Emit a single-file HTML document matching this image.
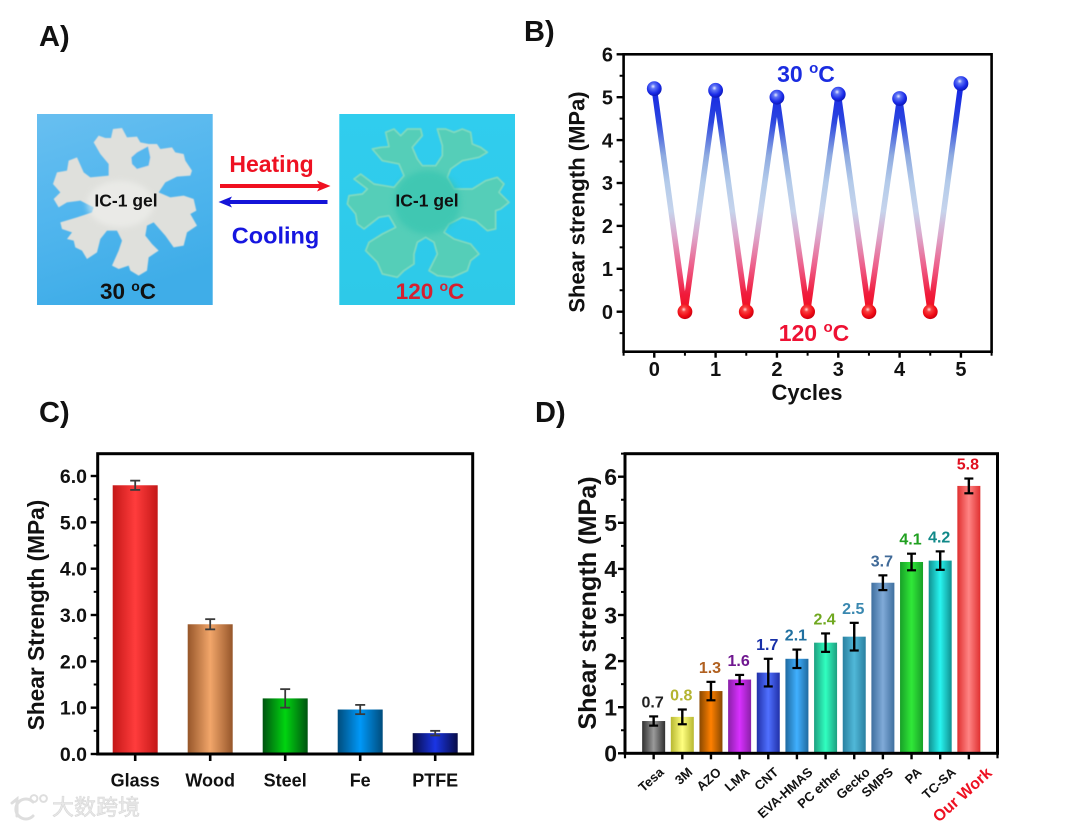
<!DOCTYPE html>
<html lang="en">
<head>
<meta charset="utf-8">
<title>IC-1 gel adhesion figure</title>
<style>
html,body{margin:0;padding:0;background:#fff;width:1076px;height:826px;overflow:hidden}
svg{display:block}
text{font-family:"Liberation Sans","Noto Sans CJK SC",sans-serif;font-weight:bold;fill:#111}
</style>
</head>
<body>
<svg id="fig" xmlns="http://www.w3.org/2000/svg" width="1076" height="826" viewBox="0 0 1076 826">
<defs>
  <linearGradient id="bgL" x1="0" y1="0" x2="0.3" y2="1"><stop offset="0" stop-color="#68bff0"/><stop offset="0.5" stop-color="#52b6ee"/><stop offset="1" stop-color="#3fade8"/></linearGradient>
  <linearGradient id="bgR" x1="0" y1="0" x2="0" y2="1"><stop offset="0" stop-color="#30cdee"/><stop offset="1" stop-color="#2ec9e8"/></linearGradient>
  <radialGradient id="ballBlue" cx="0.42" cy="0.35" r="0.65"><stop offset="0" stop-color="#e8ecff"/><stop offset="0.25" stop-color="#5f74f5"/><stop offset="0.7" stop-color="#1a2be8"/><stop offset="1" stop-color="#0c18b8"/></radialGradient>
  <radialGradient id="ballRed" cx="0.42" cy="0.35" r="0.65"><stop offset="0" stop-color="#ffd8d8"/><stop offset="0.25" stop-color="#f84040"/><stop offset="0.7" stop-color="#f00a14"/><stop offset="1" stop-color="#c80010"/></radialGradient>
  <filter id="soft" x="-5%" y="-5%" width="110%" height="110%"><feGaussianBlur stdDeviation="1.8"/></filter>
  <filter id="softer" x="-20%" y="-20%" width="140%" height="140%"><feGaussianBlur stdDeviation="9"/></filter>
</defs>
<rect width="1076" height="826" fill="#fff"/>

<text x="39" y="46" font-size="29">A)</text>
<text x="524" y="41" font-size="29">B)</text>
<text x="39" y="422" font-size="29">C)</text>
<text x="535" y="422" font-size="29">D)</text>

<g>
  <rect x="37" y="114" width="175.7" height="191" fill="url(#bgL)"/>
  <rect x="339.3" y="114" width="175.7" height="191" fill="url(#bgR)"/>
  <g transform="translate(37,114) scale(0.3333)">
    <g filter="url(#soft)">
      <path fill="#dfe0dc" d="M170 85L185 65L205 72L222 72L228 45L255 42L270 70L300 68L310 85L335 90L360 90L370 105L405 100L415 115L440 120L445 140L465 170L460 185L420 188L385 205L365 235L400 250L440 245L470 255L478 290L460 300L480 335L450 355L440 395L410 400L385 365L350 325L330 335L325 365L345 390L365 410L335 430L330 470L305 485L280 470L275 455L245 465L225 455L245 410L255 380L240 350L210 350L190 375L180 415L150 435L135 410L115 400L110 380L90 375L105 355L75 345L70 325L120 310L165 295L170 280L130 260L90 265L65 280L50 255L70 235L48 210L60 175L90 170L95 140L120 130L140 175L160 190L215 185L215 150L190 120Z"/>
      <path fill="#55b7ee" d="M283 130L300 115L333 97L340 130L335 155L300 165L285 150Z"/>
    </g>
    <ellipse cx="250" cy="270" rx="100" ry="70" fill="#f3f3f0" opacity="0.55" filter="url(#softer)"/>
  </g>
  <g transform="translate(339,114) scale(0.3333)">
    <path filter="url(#soft)" fill="#54ceb8" stroke="#80dac0" stroke-width="5" stroke-linejoin="round" d="M100 105L125 100L150 98L140 55L165 45L185 65L205 45L245 45L250 65L220 100L235 135L250 155L290 155L310 125L310 95L295 45L320 45L345 55L370 45L395 55L400 90L425 100L445 115L420 130L370 140L335 165L325 190L345 225L400 225L440 200L475 190L495 210L480 235L510 265L485 285L470 290L470 345L445 350L410 320L370 310L330 330L315 355L345 375L395 390L420 420L395 440L385 470L340 490L295 485L270 470L295 420L285 385L260 370L235 385L225 420L225 450L195 470L175 490L130 480L115 445L80 410L90 385L130 360L170 340L150 305L120 310L75 345L55 330L50 300L25 270L30 245L70 240L85 225L45 195L65 180L105 210L165 220L195 185L180 150L130 140Z"/>
    <ellipse cx="265" cy="265" rx="100" ry="95" fill="#34c4b0" opacity="0.65" filter="url(#softer)"/>
  </g>
  <text x="126" y="206.5" font-size="17.5" text-anchor="middle">IC-1 gel</text>
  <text x="427" y="206.5" font-size="17.5" text-anchor="middle">IC-1 gel</text>
  <text x="128" y="299" font-size="22.5" text-anchor="middle" fill="#0a0a14">30 <tspan dy="-8" font-size="14">o</tspan><tspan dy="8">C</tspan></text>
  <text x="430" y="299" font-size="22.5" text-anchor="middle" style="fill:#d62030">120 <tspan dy="-8" font-size="14">o</tspan><tspan dy="8">C</tspan></text>
  <text x="271.5" y="172" font-size="23" text-anchor="middle" style="fill:#ee1122">Heating</text>
  <text x="275.5" y="243.5" font-size="23.5" text-anchor="middle" style="fill:#1616e0">Cooling</text>
  <path fill="#f01020" d="M220 184H319L317 180.5L330.5 186L317 191.5L319 188H220Z"/>
  <path fill="#1414d8" d="M327.5 200H230L232 196.5L218.5 202L232 207.5L230 204H327.5Z"/>
</g>

<g id="panelB"></g>
<g id="panelC"></g>
<g id="panelD"></g>

<g>
  <g fill="none" stroke="#dedede" stroke-width="3" stroke-linecap="round">
    <path d="M12 803L17 799V816"/>
    <path d="M33 802A10 10 0 1 0 33 816"/>
    <circle cx="34" cy="798.5" r="3.4" stroke-width="2"/>
    <circle cx="43.5" cy="798.5" r="3.4" stroke-width="2"/>
  </g>
  <text x="52" y="815" font-size="22" stroke="#d8d8d8" stroke-width="0.6" style="fill:#e8e8e8;font-weight:normal">大数跨境</text>
</g>

<script>
/* Panel B data */
var cycleX = [0, 0.5, 1, 1.5, 2, 2.5, 3, 3.5, 4, 4.5, 5];
var cycleStrength = [5.2, 0, 5.16, 0, 5.0, 0, 5.07, 0, 4.97, 0, 5.32];
var cycleYTicks = ["0", "1", "2", "3", "4", "5", "6"];
var cycleXTicks = ["0", "1", "2", "3", "4", "5"];

/* Panel C data */
var substrateNames = ["Glass", "Wood", "Steel", "Fe", "PTFE"];
var substrateValues = [5.8, 2.8, 1.2, 0.96, 0.45];
var substrateErrors = [0.1, 0.11, 0.2, 0.1, 0.05];
var substrateYTicks = ["0.0", "1.0", "2.0", "3.0", "4.0", "5.0", "6.0"];

/* Panel D data */
var workNames = ["Tesa", "3M", "AZO", "LMA", "CNT", "EVA-HMAS", "PC ether", "Gecko", "SMPS", "PA", "TC-SA", "Our Work"];
var workValues = [0.7, 0.79, 1.35, 1.6, 1.75, 2.05, 2.4, 2.53, 3.7, 4.15, 4.18, 5.8];
var workErrors = [0.1, 0.16, 0.2, 0.1, 0.3, 0.2, 0.2, 0.3, 0.16, 0.18, 0.2, 0.16];
var workPrinted = ["0.7", "0.8", "1.3", "1.6", "1.7", "2.1", "2.4", "2.5", "3.7", "4.1", "4.2", "5.8"];
var workYTicks = ["0", "1", "2", "3", "4", "5", "6"];

/* Palettes */
var substrateEdge = ["#c41818", "#96562a", "#005410", "#004c7c", "#080c48"];
var substrateMid = ["#ff3c3c", "#f2a66a", "#00d410", "#0098f8", "#1a35e4"];
var workEdge = ["#303030", "#b8b830", "#884800", "#8a20a8", "#2030a8", "#1f6aa0", "#1f9f80", "#2a80a0", "#3f6f9f", "#18a028", "#109090", "#e03030"];
var workMid = ["#9a9a9a", "#ffff80", "#ff8000", "#d830ff", "#5070ff", "#40b0ff", "#30ffc0", "#50b8d8", "#80aad8", "#30e838", "#28f5f0", "#ff8484"];
var workLabelColors = ["#222222", "#b4b430", "#b06020", "#701890", "#1830a8", "#2070a0", "#70a820", "#3a88b0", "#406a98", "#20a020", "#108888", "#e01020"];

var NS = "http://www.w3.org/2000/svg";
var defs = document.querySelector("#fig defs");

function mk(tag, attrs, parent) {
  var el = document.createElementNS(NS, tag);
  for (var k in attrs) el.setAttribute(k, attrs[k]);
  parent.appendChild(el);
  return el;
}
function linear(d0, d1, r0, r1) {
  return function (v) { return r0 + (v - d0) * (r1 - r0) / (d1 - d0); };
}
function barGradient(id, edge, mid) {
  var g = mk("linearGradient", { id: id, x1: 0, y1: 0, x2: 1, y2: 0 }, defs);
  mk("stop", { offset: 0, "stop-color": edge }, g);
  mk("stop", { offset: 0.5, "stop-color": mid }, g);
  mk("stop", { offset: 1, "stop-color": edge }, g);
}
function drawLine(parent, x1, y1, x2, y2, color, width, name) {
  var el = mk("line", { x1: x1, y1: y1, x2: x2, y2: y2, stroke: color, "stroke-width": width }, parent);
  
  
  return el;
}
function drawText(parent, x, y, str, size, anchor, name) {
  var el = mk("text", { x: x, y: y, "font-size": size, "text-anchor": anchor }, parent);
  el.textContent = str;
  
  
  return el;
}
function drawFrame(parent, l, t, r, b, w) {
  var el = mk("rect", { x: l, y: t, width: r - l, height: b - t, fill: "none", stroke: "#000", "stroke-width": w }, parent);
  
  
}
function rotatedTitle(parent, x, y, str, size, name) {
  var el = mk("text", { x: 0, y: 0, "font-size": size, "text-anchor": "middle", transform: "translate(" + x + "," + y + ") rotate(-90)" }, parent);
  el.textContent = str;
  
  
}
function yAxis(parent, scale, labels, step, left, fmtSize, labelRight, minorMax) {
  labels.forEach(function (t) {
    var v = parseFloat(t);
    var y = scale(v);
    drawLine(parent, left - 7, y, left, y, "#000", 2.4, "y-tick");
    drawText(parent, labelRight, y + fmtSize * 0.36, t, fmtSize, "end", "y-tick-label");
  });
  for (var m = -2; m < 14; m++) {
    var mv = (m + 0.5) * step;
    if (mv < scale.min || mv > minorMax) continue;
    drawLine(parent, left - 4, scale(mv), left, scale(mv), "#000", 2, "y-minor-tick");
  }
}

/* ---------- Panel B ---------- */
(function () {
  var g = document.getElementById("panelB");
  var L = 623.6, R = 991.6, T = 54.3, B = 351.7;
  var x = linear(-0.5, 5.5, L, R);
  var y = linear(0, 6, 311.7, T);
  y.min = -0.9;
  var grad = mk("linearGradient", { id: "lineGrad", gradientUnits: "userSpaceOnUse", x1: 0, x2: 0, y1: y(5.2), y2: y(0) }, defs);
  [[0, "#1426e2"], [0.15, "#2c46e0"], [0.3, "#8eaae0"], [0.42, "#b4cbea"], [0.55, "#c6d4ec"], [0.66, "#dca8cc"], [0.8, "#ee5c88"], [0.92, "#f01c3c"], [1, "#f00c1c"]].forEach(function (s) {
    mk("stop", { offset: s[0], "stop-color": s[1] }, grad);
  });
  var pts = cycleX.map(function (c, i) { return x(c) + "," + y(cycleStrength[i]); }).join(" ");
  var line = mk("polyline", { points: pts, fill: "none", stroke: "url(#lineGrad)", "stroke-width": 5.6, "stroke-linejoin": "miter", "stroke-miterlimit": 2 }, g);
  
  
  cycleX.forEach(function (c, i) {
    var hot = cycleStrength[i] < 1;
    var dot = mk("circle", { cx: x(c), cy: y(cycleStrength[i]), r: 7.4, fill: hot ? "url(#ballRed)" : "url(#ballBlue)" }, g);
    
    
  });
  drawFrame(g, L, T, R, B, 2.6);
  yAxis(g, y, cycleYTicks, 1, L, 20, 613, 6);
  cycleXTicks.forEach(function (t) {
    var v = parseFloat(t);
    drawLine(g, x(v), B, x(v), B + 6, "#000", 2.4, "x-tick");
    drawText(g, x(v), 376, t, 20, "middle", "x-tick-label");
    if (v < 5) drawLine(g, x(v + 0.5), B, x(v + 0.5), B + 4, "#000", 2, "x-minor-tick");
  });
  drawLine(g, L, B, L, B + 4, "#000", 2, "x-minor-tick");
  drawLine(g, R, B, R, B + 4, "#000", 2, "x-minor-tick");
  drawText(g, 807, 400, "Cycles", 22, "middle", "x-axis-title");
  rotatedTitle(g, 584.5, 202, "Shear strength (MPa)", 22, "y-axis-title");
  var hotLabel = drawText(g, 814, 341, "120 ", 23, "middle", "label-120c");
  hotLabel.style.fill = "#ee1133";
  var s1 = mk("tspan", { dy: -9, "font-size": 15 }, hotLabel); s1.textContent = "o";
  var s2 = mk("tspan", { dy: 9 }, hotLabel); s2.textContent = "C";
  var coldLabel = drawText(g, 806, 82, "30 ", 23, "middle", "label-30c");
  coldLabel.style.fill = "#1a2ce0";
  var s3 = mk("tspan", { dy: -9, "font-size": 15 }, coldLabel); s3.textContent = "o";
  var s4 = mk("tspan", { dy: 9 }, coldLabel); s4.textContent = "C";
})();

/* ---------- Panel C ---------- */
(function () {
  var g = document.getElementById("panelC");
  var L = 97.7, R = 472.7, T = 453.7, B = 754;
  var y = linear(0, 6, B, 476);
  y.min = 0;
  var step = (R - L) / substrateNames.length;
  var x = function (i) { return L + (i + 0.5) * step; };
  var bw = 45;
  substrateNames.forEach(function (n, i) {
    barGradient("cBar" + i, substrateEdge[i], substrateMid[i]);
    var bar = mk("rect", { x: x(i) - bw / 2, y: y(substrateValues[i]), width: bw, height: B - y(substrateValues[i]), fill: "url(#cBar" + i + ")" }, g);
    
    
    var hi = y(substrateValues[i] + substrateErrors[i]);
    var lo = y(substrateValues[i] - substrateErrors[i]);
    drawLine(g, x(i), hi, x(i), lo, "#3a3a3a", 1.8, "error-bar");
    drawLine(g, x(i) - 5, hi, x(i) + 5, hi, "#3a3a3a", 1.8, "error-cap");
    drawLine(g, x(i) - 5, lo, x(i) + 5, lo, "#3a3a3a", 1.8, "error-cap");
    drawLine(g, x(i), B, x(i), B + 7, "#000", 2.6, "x-tick");
    drawText(g, x(i), 786.5, n, 18, "middle", "x-tick-label");
  });
  drawFrame(g, L, T, R, B, 3);
  yAxis(g, y, substrateYTicks, 1, L, 19.5, 87, 6.3);
  rotatedTitle(g, 44, 615, "Shear Strength (MPa)", 22.7, "y-axis-title");
})();

/* ---------- Panel D ---------- */
(function () {
  var g = document.getElementById("panelD");
  var L = 625, R = 997.5, T = 453.7, B = 753.3;
  var y = linear(0, 6, B, 476.7);
  y.min = 0;
  var step = (R - L) / (workNames.length + 1);
  var x = function (i) { return L + (i + 1) * step; };
  var bw = 23;
  workNames.forEach(function (n, i) {
    barGradient("dBar" + i, workEdge[i], workMid[i]);
    var bar = mk("rect", { x: x(i) - bw / 2, y: y(workValues[i]), width: bw, height: B - y(workValues[i]), fill: "url(#dBar" + i + ")" }, g);
    
    
    var hi = y(workValues[i] + workErrors[i]);
    var lo = y(workValues[i] - workErrors[i]);
    drawLine(g, x(i), hi, x(i), lo, "#000", 2.4, "error-bar");
    drawLine(g, x(i) - 4.5, hi, x(i) + 4.5, hi, "#000", 2.2, "error-cap");
    drawLine(g, x(i) - 4.5, lo, x(i) + 4.5, lo, "#000", 2.2, "error-cap");
    var val = drawText(g, x(i) - 1, hi - 9, workPrinted[i], 16, "middle", "value-label");
    val.style.fill = workLabelColors[i];
    drawLine(g, x(i), B, x(i), B + 6, "#000", 2.4, "x-tick");
    var ours = n === "Our Work";
    var anchorX = x(i) + (ours ? 24 : (n.length >= 5 ? 16.5 : 11));
    var anchorY = B + (ours ? 21 : 20);
    var lab = mk("text", { x: 0, y: 0, "font-size": ours ? 16 : 13, "text-anchor": "end", transform: "translate(" + anchorX + "," + anchorY + ") rotate(-42)" }, g);
    lab.textContent = n;
    
    
    if (ours) lab.style.fill = "#ee1122";
  });
  drawFrame(g, L, T, R, B, 3);
  drawLine(g, L, B, L, B + 5, "#000", 2.2, "x-minor-tick");
  drawLine(g, R, B, R, B + 5, "#000", 2.2, "x-minor-tick");
  yAxis(g, y, workYTicks, 1, L, 23, 617, 6.5);
  rotatedTitle(g, 596, 603, "Shear strength (MPa)", 25.2, "y-axis-title");
})();
</script>
</svg>
</body>
</html>
